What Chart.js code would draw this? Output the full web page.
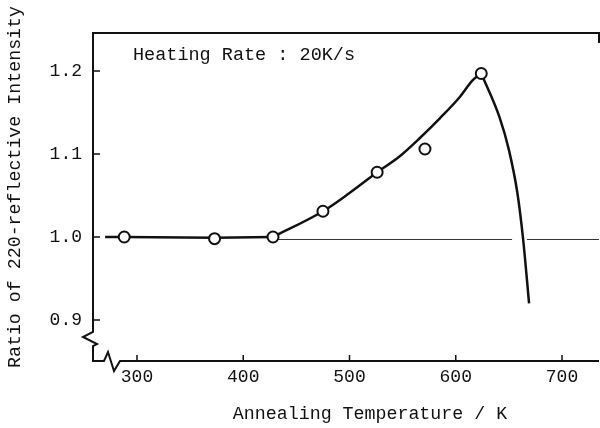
<!DOCTYPE html>
<html>
<head>
<meta charset="utf-8">
<script src="https://cdn.jsdelivr.net/npm/chart.js@4"></script>
<style>
  html, body { margin: 0; padding: 0; background: #fff; }
  #wrap { width: 600px; height: 428px; }
</style>
</head>
<body>
<div id="wrap"><canvas id="grafico"></canvas></div>
<script>
// Puntos medidos (círculos)
const tempPuntos = [288, 373, 428, 475, 526, 571, 624];
const ratioPuntos = [1.0, 0.998, 1.0, 1.031, 1.078, 1.106, 1.197];

// Curva trazada a mano: tramo plano, subida y caída
const tempPlano = [270, 288, 373, 428];
const ratioPlano = [1.0, 1.0, 0.999, 1.0];
const tempSubida = [428, 475, 500, 526, 547, 566, 585, 604, 616, 624];
const ratioSubida = [1.0, 1.031, 1.053, 1.078, 1.097, 1.119, 1.143, 1.169, 1.189, 1.197];
const tempCaida = [624, 641, 650, 658, 663.5, 669];
const ratioCaida = [1.197, 1.145, 1.105, 1.053, 0.996, 0.920];

// Línea de referencia en 1.0 (cortada donde la cruza la curva)
const tempRef = [428, 653, 660, 667, 735];
const ratioRef = [0.997, 0.997, null, 0.997, 0.997];

const xTicks = [300, 400, 500, 600, 700];
const yTicks = [0.9, 1.0, 1.1, 1.2];

const FUENTE = '"Liberation Mono", "DejaVu Sans Mono", monospace';
const NEGRO = '#111';

function puntos(xs, ys) {
    return xs.map((x, i) => ({ x: x, y: ys[i] }));
}

function tramo(nombre, xs, ys, modo) {
    return {
        label: nombre,
        data: puntos(xs, ys),
        borderColor: NEGRO,
        borderWidth: 2.5,
        pointRadius: 0,
        cubicInterpolationMode: modo,
        tension: 0,
        fill: false,
        order: 2
    };
}

// Marco, corte de ejes, ticks hacia adentro y textos
const marco = {
    id: 'marco',
    afterDraw(chart) {
        const { ctx, chartArea: a, scales } = chart;
        const L = a.left, B = a.bottom;
        ctx.save();
        ctx.strokeStyle = NEGRO;
        ctx.lineWidth = 2;
        ctx.beginPath();
        ctx.moveTo(a.right, a.top + 10);
        ctx.lineTo(a.right, a.top);
        ctx.lineTo(L, a.top);
        ctx.lineTo(L, B - 29);
        ctx.lineTo(L - 10, B - 24);
        ctx.lineTo(L + 4, B - 17);
        ctx.lineTo(L, B - 15);
        ctx.lineTo(L, B);
        ctx.lineTo(L + 11, B);
        ctx.lineTo(L + 15, B - 9);
        ctx.lineTo(L + 21, B + 10);
        ctx.lineTo(L + 27, B);
        ctx.lineTo(a.right, B);
        ctx.stroke();

        // ticks hacia adentro
        ctx.lineWidth = 1.5;
        ctx.beginPath();
        scales.x.ticks.forEach(t => {
            const px = scales.x.getPixelForValue(t.value);
            ctx.moveTo(px, B);
            ctx.lineTo(px, B - 6);
        });
        scales.y.ticks.forEach(t => {
            const py = scales.y.getPixelForValue(t.value);
            ctx.moveTo(L, py);
            ctx.lineTo(L + 7, py);
        });
        ctx.stroke();

        // textos
        ctx.fillStyle = NEGRO;
        ctx.font = '18.5px ' + FUENTE;
        ctx.textBaseline = 'alphabetic';
        ctx.textAlign = 'left';
        ctx.fillText('Heating Rate : 20K/s', 133, 60);

        ctx.font = '18.3px ' + FUENTE;
        ctx.textAlign = 'center';
        ctx.textBaseline = 'middle';
        ctx.fillText('Annealing Temperature / K', 370, 414);

        ctx.translate(15, 187);
        ctx.rotate(-Math.PI / 2);
        ctx.fillText('Ratio of 220-reflective Intensity', 0, 0);
        ctx.restore();
    }
};

new Chart(document.getElementById('grafico'), {
    type: 'line',
    data: {
        datasets: [
            {
                label: 'Medidos',
                data: puntos(tempPuntos, ratioPuntos),
                showLine: false,
                pointRadius: 5.5,
                pointBorderWidth: 2,
                pointBackgroundColor: '#fff',
                pointBorderColor: NEGRO,
                order: 1
            },
            tramo('Plano', tempPlano, ratioPlano, 'default'),
            tramo('Subida', tempSubida, ratioSubida, 'monotone'),
            tramo('Caída', tempCaida, ratioCaida, 'monotone'),
            {
                label: 'Referencia',
                data: puntos(tempRef, ratioRef),
                borderColor: '#333',
                borderWidth: 1,
                pointRadius: 0,
                spanGaps: false,
                fill: false,
                order: 3
            }
        ]
    },
    options: {
        responsive: true,
        maintainAspectRatio: false,
        animation: false,
        layout: { autoPadding: false, padding: { top: 33, right: 1, left: 0, bottom: 0 } },
        plugins: {
            legend: { display: false },
            tooltip: { enabled: false }
        },
        scales: {
            x: {
                type: 'linear',
                min: 258.6,
                max: 734.8,
                afterFit: s => { s.height = 67; s.paddingLeft = 0; s.paddingRight = 0; },
                afterBuildTicks: s => { s.ticks = xTicks.map(v => ({ value: v })); },
                grid: { display: false, drawTicks: false },
                border: { display: false },
                ticks: {
                    padding: 5,
                    color: NEGRO,
                    maxRotation: 0,
                    font: { family: FUENTE, size: 18 }
                }
            },
            y: {
                type: 'linear',
                min: 0.8506,
                max: 1.2458,
                afterFit: s => { s.width = 93; s.paddingTop = 0; s.paddingBottom = 0; },
                afterBuildTicks: s => { s.ticks = yTicks.map(v => ({ value: v })); },
                grid: { display: false, drawTicks: false },
                border: { display: false },
                ticks: {
                    padding: 11,
                    color: NEGRO,
                    callback: v => v.toFixed(1),
                    font: { family: FUENTE, size: 18 }
                }
            }
        }
    },
    plugins: [marco]
});
</script>
</body>
</html>
